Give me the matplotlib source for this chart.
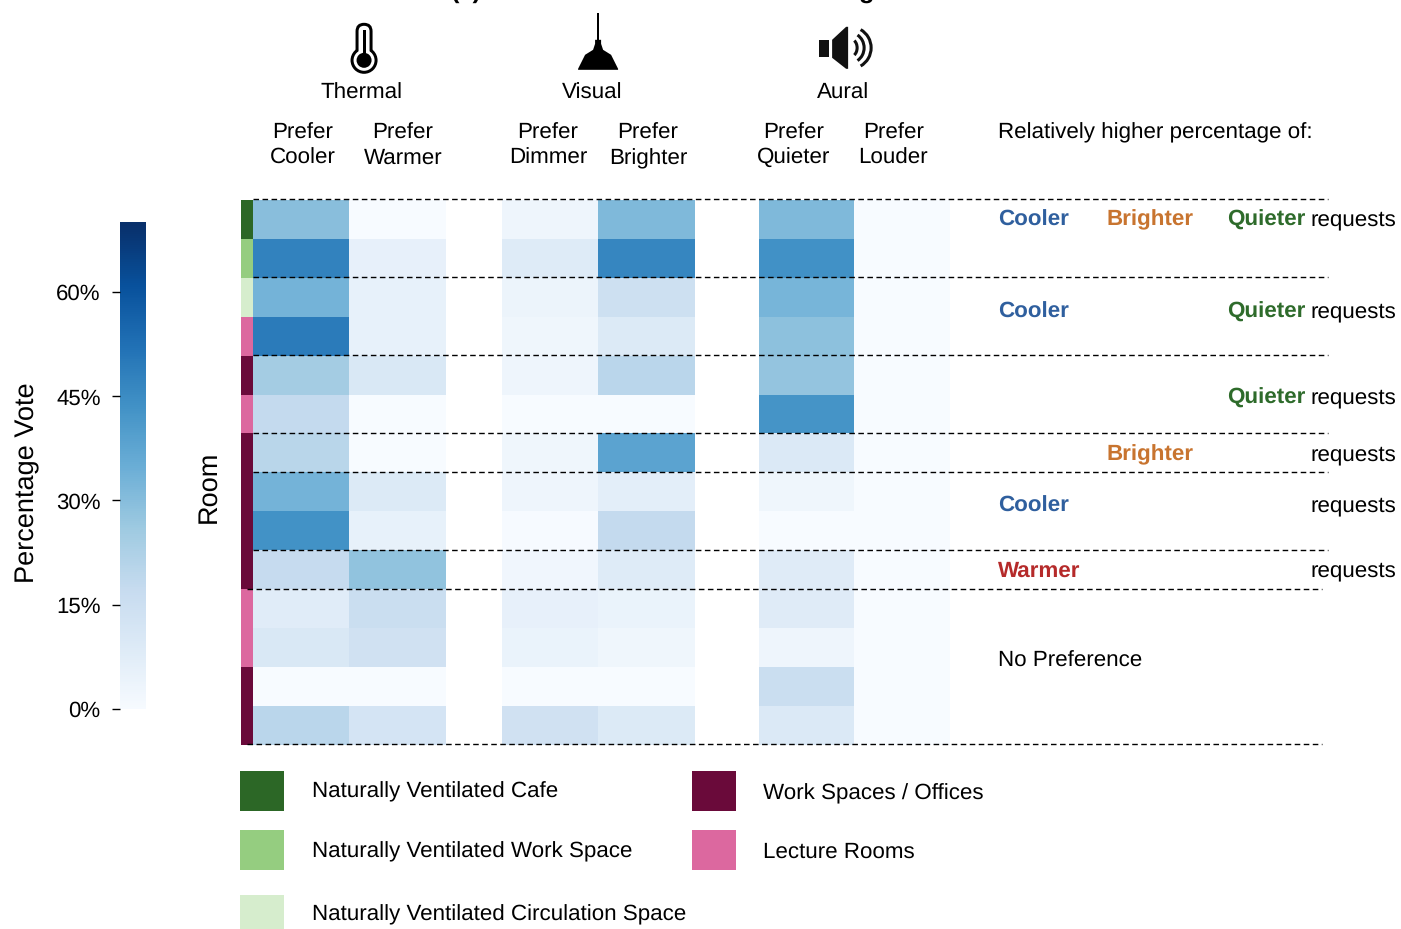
import numpy as np
import matplotlib
matplotlib.use('Agg')
import matplotlib.pyplot as plt
from matplotlib.patches import Rectangle, Circle, FancyBboxPatch, Polygon, Arc
from matplotlib.colors import ListedColormap

plt.rcParams['font.family'] = ['Liberation Sans', 'DejaVu Sans']
plt.rcParams['text.hinting'] = 'none'
plt.rcParams['text.hinting_factor'] = 8

W, H = 1401, 929

# percentage votes, top row to bottom row
prefer_cooler = [30, 48, 33.5, 50, 25, 18, 20.5, 33.5, 43.5, 17.5, 8, 10.5, 0, 20]
prefer_warmer = [0, 6, 5.5, 5.5, 10.5, 0, 0, 9.5, 5.5, 28.5, 16, 14, 0, 12.5]
prefer_dimmer = [3.5, 9, 4, 3, 3.5, 0, 3, 3.5, 0.5, 2.5, 6, 4.5, 0, 14]
prefer_brighter = [31.5, 47, 15, 9.5, 20, 0, 38.5, 7, 18, 9, 4.5, 3, 0, 9.5]
prefer_quieter = [31.5, 44, 33, 29, 28, 43, 10, 3, 0, 8.5, 8.5, 3.5, 16, 10]
prefer_louder = [0] * 14

room_types = ['cafe', 'work', 'circ', 'lecture', 'office', 'lecture', 'office', 'office',
              'office', 'office', 'lecture', 'lecture', 'office', 'office']
room_colors = {'cafe': '#2c6726', 'work': '#95cd80', 'circ': '#d6edcd',
               'office': '#6a0a3a', 'lecture': '#dc689f'}

colorbar_ticks = [0, 15, 30, 45, 60]
vmax = 70

# divider rows: heatmap row boundaries with a dashed line
long_dividers = [0, 2, 4, 6, 7, 9]
short_dividers = [10, 14]

requests = [
    (225.7, 'Cooler', 'Brighter', 'Quieter'),
    (317.7, 'Cooler', None, 'Quieter'),
    (403.7, None, None, 'Quieter'),
    (460.7, None, 'Brighter', None),
    (511.7, 'Cooler', None, None),
    (577, 'Warmer', None, None),
]
word_colors = {'Cooler': '#2f5f9e', 'Warmer': '#b52a2a', 'Brighter': '#c8742f', 'Quieter': '#2e6b2b'}

group_names = ['Thermal', 'Visual', 'Aural']
column_top = ['Prefer'] * 6
column_bottom = ['Cooler', 'Warmer', 'Dimmer', 'Brighter', 'Quieter', 'Louder']


def px_axes(fig, x0, y0, x1, y1):
    return fig.add_axes([x0 / W, 1 - y1 / H, (x1 - x0) / W, (y1 - y0) / H])


fig = plt.figure(figsize=((W + 0.2) / 100, (H + 0.2) / 100), dpi=100)

top, bottom = 200, 745
panels = [(253, 445.5, [prefer_cooler, prefer_warmer]),
          (502, 694.5, [prefer_dimmer, prefer_brighter]),
          (759, 949.5, [prefer_quieter, prefer_louder])]
mesh = None
for x0, x1, cols in panels:
    ax = px_axes(fig, x0, top, x1, bottom)
    mesh = ax.pcolormesh(np.array(cols).T, cmap='Blues', vmin=0, vmax=vmax)
    ax.set_ylim(14, 0)
    ax.axis('off')

# room type strip
strip = px_axes(fig, 241, top, 253, bottom)
names = list(room_colors)
codes = [[names.index(r)] for r in room_types]
strip.pcolormesh(np.array(codes), cmap=ListedColormap([room_colors[n] for n in names]),
                 vmin=-0.5, vmax=len(names) - 0.5)
strip.set_ylim(14, 0)
strip.axis('off')

# colorbar
cax = px_axes(fig, 120, 222.5, 146, 709)
cb = fig.colorbar(mesh, cax=cax, ticks=colorbar_ticks)
cb.outline.set_visible(False)
cb.solids.set_edgecolor('face')
cax.yaxis.set_ticks_position('left')
cax.set_yticklabels(['{}%'.format(t) for t in colorbar_ticks])
cax.tick_params(length=5.5, width=1, pad=8.5, labelsize=16, left=True, right=False)

# overlay in pixel coordinates for annotation, icons and legend
ov = fig.add_axes([0, 0, 1, 1], facecolor='none')
ov.set_xlim(0, W)
ov.set_ylim(H, 0)
ov.axis('off')

row_h = (bottom - top) / 14
dash = (0, (4, 2.5))
for r in long_dividers:
    y = top + r * row_h - 0.6
    ov.plot([253, 1328], [y, y], color='k', lw=1, ls=dash)
for r in short_dividers:
    y = top + r * row_h - 0.6
    ov.plot([247, 1321.5], [y, y], color='k', lw=1, ls=dash)

fs = 16.1
ov.text(27, 483, 'Percentage Vote', rotation=90, ha='center', va='center', fontsize=19.5)
ov.text(209, 486.5, 'Room', rotation=90, ha='center', va='center', fontsize=19.5)

for name, x in zip(group_names, [361, 592, 843]):
    ov.text(x, 99, name, ha='center', va='baseline', fontsize=fs)
for a, b, x in zip(column_top, column_bottom, [303, 403, 548, 648, 794, 893]):
    ov.text(x, 138.3, a, ha='center', va='baseline', fontsize=fs)
    ov.text(x, 164, b, ha='center', va='baseline', fontsize=fs)
ov.text(997.5, 138, 'Relatively higher percentage of:', va='baseline', fontsize=fs)

for y, a, b, c in requests:
    for word, x in [(a, 997.5), (b, 1106.5), (c, 1226.5)]:
        if word:
            ov.text(x, y, word, va='baseline', fontsize=fs, fontweight='bold', color=word_colors[word])
    ov.text(1310.5, y - 0.7, 'requests', va='baseline', fontsize=fs)
ov.text(997.5, 667, 'No Preference', va='baseline', fontsize=fs)

# clipped title fragments along the top edge
ov.text(450.5, -2.5, '(a)', va='baseline', fontsize=18.3, fontweight='bold')
ov.text(874, -2.5, 'g', ha='right', va='baseline', fontsize=18.3, fontweight='bold')

# legend
legend_items = [(240, 771, 811, 'cafe', 'Naturally Ventilated Cafe', 311.5, 797.3),
                (240, 830, 870, 'work', 'Naturally Ventilated Work Space', 311.5, 857),
                (240, 895, 929, 'circ', 'Naturally Ventilated Circulation Space', 311.5, 920.5),
                (692, 771, 811, 'office', 'Work Spaces / Offices', 763, 799),
                (692, 830, 870, 'lecture', 'Lecture Rooms', 763, 858)]
for x, y0, y1, key, label, tx, ty in legend_items:
    ov.add_patch(Rectangle((x, y0), 44, y1 - y0, color=room_colors[key], lw=0))
    ov.text(tx, ty, label, va='baseline', fontsize=fs)

# thermometer icon
ov.add_patch(FancyBboxPatch((355.5, 23), 17, 36, boxstyle='round,pad=0,rounding_size=8.5', fc='k', ec='none'))
ov.add_patch(Circle((364, 60.5), 13.5, fc='k', ec='none'))
ov.add_patch(FancyBboxPatch((358.5, 26), 11, 32, boxstyle='round,pad=0,rounding_size=5.5', fc='w', ec='none'))
ov.add_patch(Circle((364, 60.5), 10.5, fc='w', ec='none'))
ov.add_patch(Circle((364, 60.5), 7.5, fc='k', ec='none'))
ov.add_patch(Rectangle((362.5, 30), 3, 26, fc='k', ec='none'))

# lamp icon
ov.add_patch(Rectangle((596.7, 13), 2.6, 28, fc='k', ec='none'))
ov.add_patch(Polygon([(595, 40), (601, 40), (601, 44), (603, 50), (611, 55), (618, 69), (618, 70), (578, 70),
                      (578, 69), (585, 55), (593, 50), (595, 44)], fc='k', ec='none'))

# speaker icon
ov.add_patch(Rectangle((819, 40), 10, 17, fc='#111111', ec='none'))
ov.add_patch(Polygon([(832, 40), (846, 27), (848, 27), (848, 69), (846, 69), (832, 58)], fc='#111111', ec='none'))
for w, h in [(14, 18), (28, 30), (42, 42)]:
    ov.add_patch(Arc((850, 48), w, h, theta1=-60, theta2=60, color='#111111', lw=2.2))

fig.savefig('out.png', dpi=100)
